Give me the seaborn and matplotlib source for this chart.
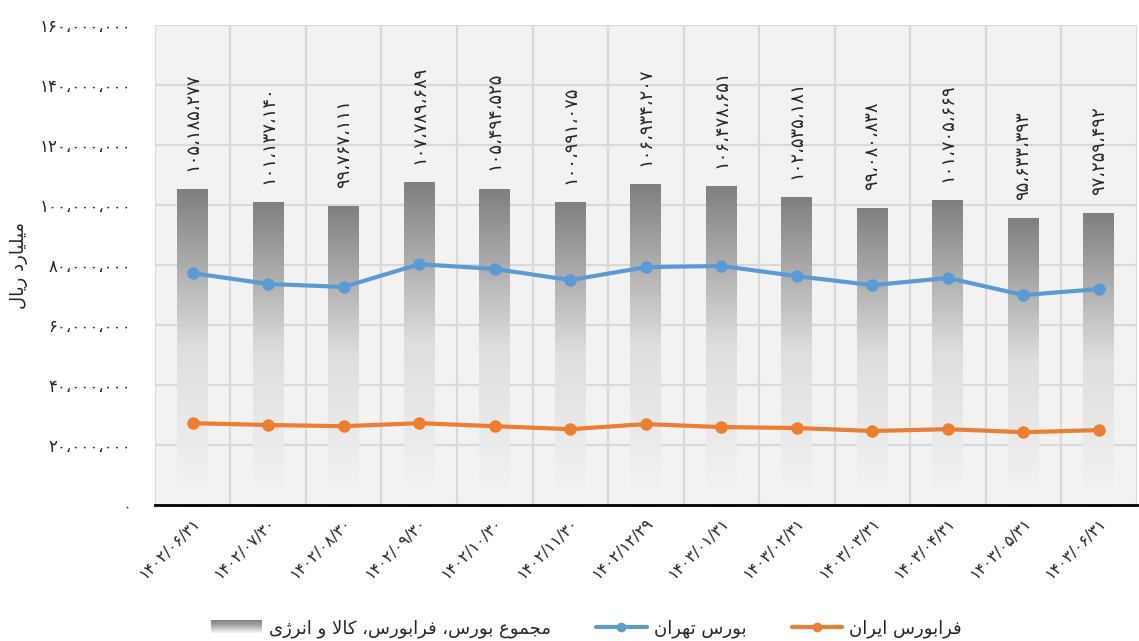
import numpy as np
import pandas as pd
import seaborn as sns
import matplotlib.pyplot as plt
from matplotlib.colors import LinearSegmentedColormap
from matplotlib.lines import Line2D
from matplotlib.patches import Rectangle
from matplotlib.legend_handler import HandlerBase
from matplotlib.ticker import FuncFormatter, MultipleLocator


#######################  DATA  #######################

dates = ['1402/06/31', '1402/07/30', '1402/08/30', '1402/09/30', '1402/10/30',
         '1402/11/30', '1402/12/29', '1403/01/31', '1403/02/31', '1403/03/31',
         '1403/04/31', '1403/05/31', '1403/06/31']

# total of bourse, farabourse, commodity and energy (billion rials)
total = [105185277, 101137140, 99767111, 107789689, 105494525, 100991075, 106934207,
         106478651, 102535181, 99080838, 101705669, 95633393, 97259492]

tehran = [77.3e6, 73.7e6, 72.7e6, 80.3e6, 78.7e6, 75.0e6, 79.3e6,
          79.7e6, 76.3e6, 73.3e6, 75.7e6, 70.0e6, 72.0e6]
iran = [27.3e6, 26.7e6, 26.3e6, 27.3e6, 26.3e6, 25.3e6, 27.0e6,
        26.0e6, 25.7e6, 24.7e6, 25.3e6, 24.3e6, 25.0e6]

y_label = 'میلیارد ریال'
name_total = 'مجموع بورس، فرابورس، کالا و انرژی'
name_tehran = 'بورس تهران'
name_iran = 'فرابورس ایران'


#######################  HELPERS  #######################

# matplotlib has no arabic shaping, so pick presentation forms by hand
# (isolated, final, initial, medial)
FORMS = {
    'ا': ('\uFE8D', '\uFE8E', None, None),
    'ب': ('\uFE8F', '\uFE90', '\uFE91', '\uFE92'),
    'ت': ('\uFE95', '\uFE96', '\uFE97', '\uFE98'),
    'ج': ('\uFE9D', '\uFE9E', '\uFE9F', '\uFEA0'),
    'د': ('\uFEA9', '\uFEAA', None, None),
    'ر': ('\uFEAD', '\uFEAE', None, None),
    'ز': ('\uFEAF', '\uFEB0', None, None),
    'ژ': ('\uFB8A', '\uFB8B', None, None),
    'س': ('\uFEB1', '\uFEB2', '\uFEB3', '\uFEB4'),
    'ع': ('\uFEC9', '\uFECA', '\uFECB', '\uFECC'),
    'ف': ('\uFED1', '\uFED2', '\uFED3', '\uFED4'),
    'ک': ('\uFB8E', '\uFB8F', '\uFB90', '\uFB91'),
    'ل': ('\uFEDD', '\uFEDE', '\uFEDF', '\uFEE0'),
    'م': ('\uFEE1', '\uFEE2', '\uFEE3', '\uFEE4'),
    'ن': ('\uFEE5', '\uFEE6', '\uFEE7', '\uFEE8'),
    'ه': ('\uFEE9', '\uFEEA', '\uFEEB', '\uFEEC'),
    'و': ('\uFEED', '\uFEEE', None, None),
    'ی': ('\uFBFC', '\uFBFD', '\uFBFE', '\uFBFF'),
}


def __joins_next(c) -> bool:
    return c in FORMS and FORMS[c][2] is not None


def fa(text: str) -> str:
    chars = list(text)
    out = []
    i = 0
    while i < len(chars):
        c = chars[i]
        if c not in FORMS:
            out.append(c)
            i += 1
            continue
        link_prev = i > 0 and __joins_next(chars[i - 1])
        if c == 'ل' and i + 1 < len(chars) and chars[i + 1] == 'ا':  # lam-alef
            out.append('\uFEFC' if link_prev else '\uFEFB')
            i += 2
            continue
        link_next = __joins_next(c) and i + 1 < len(chars) and chars[i + 1] in FORMS
        iso, fin, ini, med = FORMS[c]
        if link_prev and link_next:
            out.append(med)
        elif link_prev:
            out.append(fin)
        elif link_next:
            out.append(ini)
        else:
            out.append(iso)
        i += 1
    return ''.join(reversed(out))


DIGITS = str.maketrans('0123456789,', '۰۱۲۳۴۵۶۷۸۹،')


def fa_num(v) -> str:
    return f'{int(round(v)):,}'.translate(DIGITS)


class GradientHandler(HandlerBase):
    def create_artists(self, legend, orig_handle, xdescent, ydescent, width, height, fontsize, trans):
        strips = []
        n = 12
        for k in range(n):
            shade = 0.5 + 0.45 * k / (n - 1)
            strips.append(Rectangle((-xdescent, -ydescent + height * (1 - (k + 1) / n)), width, height / n,
                                    facecolor=(shade, shade, shade), edgecolor='none', transform=trans))
        return strips


#######################  PLOT  #######################

sns.set_theme(style='white')
plt.rcParams['font.family'] = ['DejaVu Sans']

df = pd.DataFrame({'date': [d.translate(DIGITS) for d in dates],
                   'total': total, 'tehran': tehran, 'iran': iran})

fig = plt.figure(figsize=(11.39, 6.41), dpi=100)
ax = fig.add_axes([0.136, 0.212, 0.862, 0.749])
ax.set_facecolor('#f2f2f2')

sns.barplot(data=df, x='date', y='total', width=0.41, color='#808080', ax=ax, zorder=2)

# vertical gradient inside every bar
cmap = LinearSegmentedColormap.from_list('bar_grad', ['#f4f4f4', '#dedede', '#7f7f7f'])
grad = np.linspace(0, 1, 256).reshape(-1, 1)
for bar in ax.patches:
    x0, w, h = bar.get_x(), bar.get_width(), bar.get_height()
    img = ax.imshow(grad, extent=[x0, x0 + w, 0, h], origin='lower', aspect='auto',
                    cmap=cmap, vmin=0, vmax=1, zorder=2)
    img.set_clip_path(bar)
    bar.set_facecolor('none')
    bar.set_edgecolor('none')
    ax.annotate(fa_num(h), (x0 + w / 2, h), xytext=(0, 13), textcoords='offset points',
                rotation=90, ha='center', va='bottom', fontsize=13, color='#262626', zorder=5)

sns.lineplot(x=df['date'], y=df['tehran'], color='#5b9bd5', lw=3, marker='o', markersize=9,
             markeredgewidth=0, sort=False, legend=False, ax=ax, zorder=4)
sns.lineplot(x=df['date'], y=df['iran'], color='#ed7d31', lw=3, marker='o', markersize=9,
             markeredgewidth=0, sort=False, legend=False, ax=ax, zorder=4)

ax.set_xlim(-0.5, len(dates) - 0.5)
ax.set_ylim(0, 160e6)
ax.yaxis.set_major_locator(MultipleLocator(20e6))
ax.yaxis.set_major_formatter(FuncFormatter(lambda v, p: fa_num(v)))
ax.xaxis.set_minor_locator(MultipleLocator(1, offset=0.5))

ax.grid(False)
ax.yaxis.grid(True, color='#d9d9d9', lw=1.6, zorder=0)
ax.xaxis.grid(True, which='minor', color='#d9d9d9', lw=1.6, zorder=0)
ax.set_axisbelow(True)

for side in ['left', 'right', 'top']:
    ax.spines[side].set_visible(False)
ax.spines['bottom'].set_color('black')
ax.spines['bottom'].set_linewidth(2)
ax.spines['bottom'].set_zorder(6)

ax.tick_params(axis='both', which='both', length=0)
ax.tick_params(axis='y', pad=17, labelsize=12, labelcolor='#262626')
ax.tick_params(axis='x', pad=7, labelsize=11.5, labelcolor='#262626')
plt.setp(ax.get_xticklabels(), rotation=45, ha='right', rotation_mode='anchor')

ax.set_xlabel('')
ax.set_ylabel(fa(y_label), fontsize=13, labelpad=8, color='#262626')

handles = [Rectangle((0, 0), 1, 1),
           Line2D([], [], color='#5b9bd5', lw=3, marker='o', markersize=7, markeredgewidth=0),
           Line2D([], [], color='#ed7d31', lw=3, marker='o', markersize=7, markeredgewidth=0)]
fig.legend(handles, [fa(name_total), fa(name_tehran), fa(name_iran)],
           handler_map={Rectangle: GradientHandler()},
           loc='lower center', bbox_to_anchor=(0.515, -0.02), ncol=3, frameon=False,
           fontsize=13, columnspacing=2.5, handlelength=2.8, handletextpad=0.4)

fig.savefig('out.png', dpi=100)
